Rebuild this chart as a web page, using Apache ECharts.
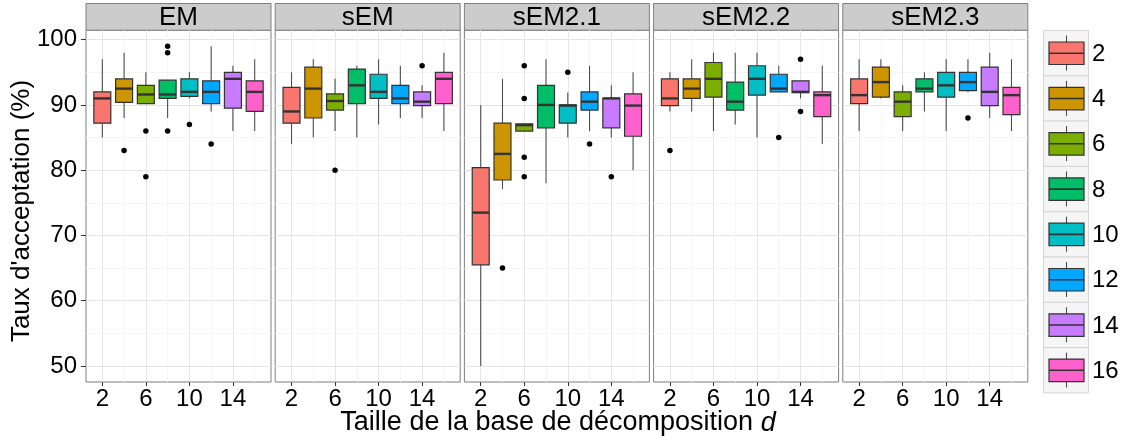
<!DOCTYPE html>
<html>
<head>
<meta charset="utf-8">
<script src="https://cdn.jsdelivr.net/npm/echarts@6.0.0/dist/echarts.min.js"></script>
<style>
  html, body { margin: 0; padding: 0; background: #fff; }
  #chart { width: 1126px; height: 441px; }
</style>
</head>
<body>
<div id="chart"></div>
<script>
// taille de la base d
const dValues = [2, 4, 6, 8, 10, 12, 14, 16];
const xTickLabels = [2, 6, 10, 14];
const yTickLabels = [50, 60, 70, 80, 90, 100];
const panelNames = ['EM', 'sEM', 'sEM2.1', 'sEM2.2', 'sEM2.3'];

// [min, Q1, mediane, Q3, max] pour chaque d
const statsEM = [
  [85.0, 87.2, 91.0, 92.0, 97.0],
  [88.0, 90.4, 92.5, 94.0, 98.0],
  [90.2, 90.2, 91.6, 93.0, 95.0],
  [88.0, 91.0, 91.6, 93.8, 93.8],
  [91.0, 91.3, 92.0, 94.0, 95.0],
  [89.0, 90.2, 92.0, 93.7, 99.0],
  [86.0, 89.5, 94.0, 95.0, 96.0],
  [86.0, 89.0, 92.0, 93.7, 97.0]
];
const statsSEM = [
  [84.0, 87.2, 89.0, 92.7, 95.0],
  [85.0, 88.0, 92.5, 95.8, 97.0],
  [86.0, 89.2, 90.6, 91.7, 94.0],
  [85.0, 90.2, 93.0, 95.5, 96.0],
  [87.0, 91.0, 92.0, 94.7, 97.0],
  [88.0, 90.2, 91.0, 93.0, 96.0],
  [88.0, 89.9, 90.5, 92.0, 93.0],
  [86.0, 90.2, 94.0, 95.0, 98.0]
];
const statsSEM21 = [
  [50.0, 65.5, 73.5, 80.4, 90.0],
  [77.1, 78.5, 82.5, 87.2, 94.0],
  [86.0, 86.0, 86.9, 87.1, 87.1],
  [78.0, 86.5, 90.0, 93.0, 97.0],
  [85.0, 87.2, 89.9, 90.0, 91.9],
  [86.0, 89.2, 90.5, 92.0, 96.0],
  [85.0, 86.5, 91.0, 91.0, 93.0],
  [80.0, 85.2, 89.9, 91.7, 95.0]
];
const statsSEM22 = [
  [89.0, 89.9, 91.0, 94.0, 95.0],
  [89.0, 91.0, 92.5, 94.0, 97.0],
  [86.0, 91.2, 94.0, 96.5, 98.0],
  [87.0, 89.2, 90.5, 93.5, 98.0],
  [85.0, 91.5, 94.0, 96.0, 98.0],
  [92.0, 92.0, 92.5, 94.7, 96.0],
  [91.0, 91.9, 92.0, 93.7, 93.7],
  [84.0, 88.2, 91.5, 92.0, 96.0]
];
const statsSEM23 = [
  [86.0, 90.2, 91.5, 94.0, 97.0],
  [91.0, 91.2, 93.5, 95.8, 97.0],
  [86.0, 88.2, 90.5, 92.0, 93.0],
  [89.0, 92.0, 92.5, 94.0, 95.0],
  [86.0, 91.2, 93.0, 95.0, 97.0],
  [92.0, 92.2, 93.5, 95.0, 97.0],
  [88.0, 89.9, 92.0, 95.8, 98.0],
  [86.0, 88.5, 91.5, 92.7, 97.0]
];

// valeurs aberrantes [d, taux]
const outliersEM = [[4, 83], [6, 86], [6, 79], [8, 99], [8, 98], [8, 86], [10, 87], [12, 84]];
const outliersSEM = [[6, 80], [14, 96]];
const outliersSEM21 = [[4, 65], [6, 96], [6, 91], [6, 82], [6, 79], [10, 95], [12, 84], [14, 79]];
const outliersSEM22 = [[2, 83], [12, 85], [14, 97], [14, 89]];
const outliersSEM23 = [[12, 88]];

const allStats = [statsEM, statsSEM, statsSEM21, statsSEM22, statsSEM23];
const allOutliers = [outliersEM, outliersSEM, outliersSEM21, outliersSEM22, outliersSEM23];

const colors = ['#F8766D', '#CD9600', '#7CAE00', '#00BE67', '#00BFC4', '#00A9FF', '#C77CFF', '#FF61CC'];

const chart = echarts.init(document.getElementById('chart'));

const panelLeft = 86, panelStep = 189.2, panelW = 185;
const panelTop = 30.2, panelH = 351.8;
const font = 'Liberation Sans, Arial, Helvetica, sans-serif';

const renderBox = (params, api) => {
  const x = api.value(0);
  const lo = api.coord([x, api.value(1)]);
  const q1 = api.coord([x, api.value(2)]);
  const md = api.coord([x, api.value(3)]);
  const q3 = api.coord([x, api.value(4)]);
  const hi = api.coord([x, api.value(5)]);
  const half = api.size([0.78, 0])[0];
  const cx = md[0];
  return {
    type: 'group',
    children: [
      { type: 'line', shape: { x1: cx, y1: q3[1], x2: cx, y2: hi[1] }, style: { stroke: '#4d4d4d', lineWidth: 1.1 } },
      { type: 'line', shape: { x1: cx, y1: q1[1], x2: cx, y2: lo[1] }, style: { stroke: '#4d4d4d', lineWidth: 1.1 } },
      { type: 'rect', shape: { x: cx - half, y: q3[1], width: half * 2, height: q1[1] - q3[1] },
        style: { fill: colors[params.dataIndex], stroke: '#333333', lineWidth: 1.2 } },
      { type: 'line', shape: { x1: cx - half, y1: md[1], x2: cx + half, y2: md[1] }, style: { stroke: '#333333', lineWidth: 2.4 } }
    ]
  };
};

const grids = [], xAxes = [], yAxes = [], series = [], graphics = [];

panelNames.forEach((name, i) => {
  const left = panelLeft + i * panelStep;
  grids.push({ left: left, top: panelTop, width: panelW, height: panelH,
    show: true, borderColor: '#7F7F7F', borderWidth: 1, backgroundColor: '#fff' });

  // axes principaux
  xAxes.push({
    type: 'value', gridIndex: i, min: 0.5, max: 17.5, position: 'bottom',
    axisLine: { show: false },
    axisTick: { show: true, length: 4, customValues: xTickLabels, lineStyle: { color: '#333' } },
    axisLabel: { customValues: xTickLabels, fontSize: 24, color: '#000', fontFamily: font, margin: 5 },
    splitLine: { show: true, lineStyle: { color: '#E5E5E5', width: 1 } }
  });
  yAxes.push({
    type: 'value', gridIndex: i, min: 47.55, max: 101.45, position: 'left',
    axisLine: { show: false },
    axisTick: { show: i === 0, length: 5, customValues: yTickLabels, lineStyle: { color: '#333' } },
    axisLabel: { show: i === 0, customValues: yTickLabels, fontSize: 24, color: '#000', fontFamily: font, margin: 9 },
    splitLine: { show: true, lineStyle: { color: '#E5E5E5', width: 1 } }
  });
  // grilles secondaires
  xAxes.push({
    type: 'value', gridIndex: i, min: 0.5, max: 17.5, position: 'top',
    axisLine: { show: false }, axisLabel: { show: false },
    axisTick: { show: false, customValues: [4, 8, 12, 16] },
    splitLine: { show: true, lineStyle: { color: '#F5F5F5', width: 1 } }
  });
  yAxes.push({
    type: 'value', gridIndex: i, min: 47.55, max: 101.45, position: 'right',
    axisLine: { show: false }, axisLabel: { show: false },
    axisTick: { show: false, customValues: [55, 65, 75, 85, 95] },
    splitLine: { show: true, lineStyle: { color: '#F5F5F5', width: 1 } }
  });

  series.push({
    type: 'custom', name: name, xAxisIndex: i * 2, yAxisIndex: i * 2,
    renderItem: renderBox, clip: false,
    encode: { x: 0, y: [1, 2, 3, 4, 5] },
    data: allStats[i].map((s, k) => [dValues[k]].concat(s)),
    z: 3
  });
  series.push({
    type: 'scatter', xAxisIndex: i * 2, yAxisIndex: i * 2,
    symbolSize: 5.5, itemStyle: { color: '#000', opacity: 1 },
    data: allOutliers[i], z: 4, silent: true
  });

  // bandeau du panneau
  graphics.push({
    type: 'rect', shape: { x: left, y: 3.5, width: panelW, height: panelTop - 3.5 },
    style: { fill: '#CCCCCC', stroke: '#7F7F7F', lineWidth: 1 }
  });
  graphics.push({
    type: 'text', x: left + panelW / 2, y: 17.5,
    style: { text: name, font: '26px ' + font, fill: '#000', textAlign: 'center', textVerticalAlign: 'middle' }
  });
});

// legende
const keyX = 1043.5, keyY = 30.5, keyH = 45.3, keyW = 45;
dValues.forEach((d, k) => {
  const y0 = keyY + k * keyH;
  graphics.push({ type: 'rect', shape: { x: keyX, y: y0, width: keyW, height: keyH },
    style: { fill: '#F5F5F5', stroke: '#D6D6D6', lineWidth: 1 } });
  graphics.push({ type: 'line', shape: { x1: keyX + 23, y1: y0 + 5, x2: keyX + 23, y2: y0 + 40 },
    style: { stroke: '#4d4d4d', lineWidth: 1.1 } });
  graphics.push({ type: 'rect', shape: { x: keyX + 5.5, y: y0 + 11.5, width: 35, height: 22.5 },
    style: { fill: colors[k], stroke: '#333333', lineWidth: 1.2 } });
  graphics.push({ type: 'line', shape: { x1: keyX + 5.5, y1: y0 + 22.7, x2: keyX + 40.5, y2: y0 + 22.7 },
    style: { stroke: '#333333', lineWidth: 1.6 } });
  graphics.push({ type: 'text', x: keyX + keyW + 3.5, y: y0 + keyH / 2 + 1,
    style: { text: String(d), font: '24px ' + font, fill: '#000', textAlign: 'left', textVerticalAlign: 'middle' } });
});

// titres des axes
graphics.push({
  type: 'text', x: 22, y: 211, rotation: Math.PI / 2,
  style: { text: "Taux d'acceptation (%)", font: '26px ' + font, fill: '#000', textAlign: 'center', textVerticalAlign: 'middle' }
});
graphics.push({
  type: 'text', x: 558, y: 423,
  style: {
    text: 'Taille de la base de décomposition {i|d}',
    font: '27px ' + font, fill: '#000', textAlign: 'center', textVerticalAlign: 'middle',
    rich: { i: { fontStyle: 'italic', fontSize: 27, fontFamily: font, fill: '#000' } }
  }
});

chart.setOption({
  animation: false,
  backgroundColor: '#fff',
  grid: grids,
  xAxis: xAxes,
  yAxis: yAxes,
  series: series,
  graphic: graphics
});
</script>
</body>
</html>
